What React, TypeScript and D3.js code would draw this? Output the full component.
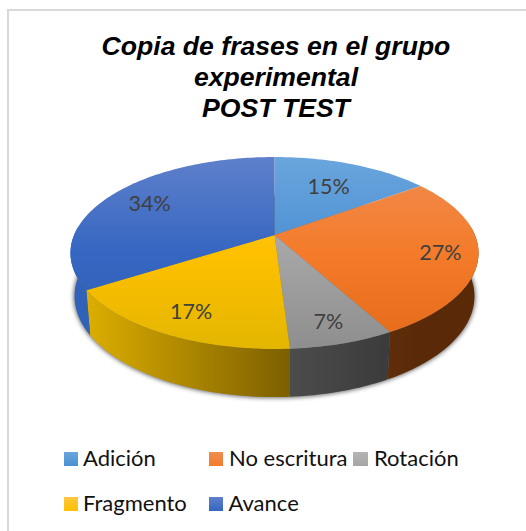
import React from "react";
import * as d3 from "d3";

const categories = ["Adición", "No escritura", "Rotación", "Fragmento", "Avance"];
const values = [15, 27, 7, 17, 34];
const titleLines = ["Copia de frases en el grupo", "experimental", "POST TEST"];
const topStops = [
  ["#6aa5dd", "#4b90d2", "#4b90d2"],
  ["#ef8d52", "#f47b2a", "#e46a18"],
  ["#b4b4b4", "#a5a5a5", "#8e8e8e"],
  ["#fdc63e", "#ffc000", "#e3b600"],
  ["#5f80cb", "#3566c1", "#2e60b6"],
];
const wallStops = [
  ["#3f7ab5", "#3f7ab5"],
  ["#5f2d0a", "#5a2a08"],
  ["#4c4c4c", "#3b3b3b"],
  ["#dcae00", "#7c5f00"],
  ["#2f62b8", "#2a5aa8"],
];
const labelRadii = [0.66, 0.82, 0.82, 0.795, 0.76];
const legendRows = [[0, 1, 2], [3, 4]];
const legendX = [[64, 209, 353], [64, 209]];
const legendTextX = [[83, 229, 374], [83, 228.5]];

const W = 526, H = 531;
const CX = 274.5, CY = 235, A = 200.4, B = 92.6, K = 0.1875;
const DEPTH = 42.4, SX = 0.98, SY = 1.05;

type P = [number, number];
const topPoint = (t: number): P => {
  const u = Math.sin(t), v = Math.cos(t), w = 1 + K * v;
  return [CX + (A * u) / w, CY - (B * v) / w];
};
const bottomPoint = (t: number): P => {
  const [x, y] = topPoint(t);
  return [CX + (x - CX) * SX, CY + DEPTH + (y - CY) * SY];
};
const sample = (a: number, b: number) => {
  const n = Math.max(2, Math.ceil(Math.abs(b - a) / 0.02));
  return d3.range(n + 1).map((i) => a + ((b - a) * i) / n);
};
const line = d3.line<P>().x((d) => d[0]).y((d) => d[1]);

export default function App() {
  const arcs = d3.pie<number>().sort(null)(values);
  const fullRim = sample(0, Math.PI * 2);
  const frontA = Math.PI * 0.47, frontB = Math.PI * 1.53;
  const labelPos = (i: number): P => {
    const a = arcs[i];
    const mid = (a.startAngle + a.endAngle) / 2;
    const r = labelRadii[i];
    const u = Math.sin(mid) * r, v = Math.cos(mid) * r, w = 1 + K * v;
    return [CX + (A * u) / w, CY - (B * v) / w];
  };
  return (
    <svg width={W} height={H} style={{ position: "absolute", left: 0, top: 0, background: "#fff" }}>
      <defs>
        <filter id="blur" x="-20%" y="-20%" width="140%" height="140%">
          <feGaussianBlur stdDeviation="2" />
        </filter>
        {topStops.map((s, i) => (
          <linearGradient key={i} id={`top${i}`} gradientUnits="userSpaceOnUse" x1="0" x2="0" y1={157} y2={349}>
            <stop offset="0" stopColor={s[0]} />
            <stop offset="0.5" stopColor={s[1]} />
            <stop offset="1" stopColor={s[2]} />
          </linearGradient>
        ))}
        {topStops.map((s, i) => (
          <linearGradient key={i} id={`leg${i}`} x1="0" x2="0" y1="0" y2="1">
            <stop offset="0" stopColor={s[0]} />
            <stop offset="1" stopColor={s[1]} />
          </linearGradient>
        ))}
        {arcs.map((a, i) => {
          const xs = [topPoint(a.startAngle)[0], topPoint(a.endAngle)[0]];
          return (
            <linearGradient key={i} id={`wall${i}`} gradientUnits="userSpaceOnUse" x1={Math.min(...xs)} x2={Math.max(...xs)} y1="0" y2="0">
              <stop offset="0" stopColor={wallStops[i][0]} />
              <stop offset="1" stopColor={wallStops[i][1]} />
            </linearGradient>
          );
        })}
      </defs>
      <line x1={7} x2={W} y1={10} y2={10} stroke="#d9d9d9" strokeWidth={2} />
      <line x1={8} x2={8} y1={9} y2={H} stroke="#d9d9d9" strokeWidth={2} />
      {titleLines.map((t, i) => (
        <text key={t} x={276} y={55 + i * 31} textAnchor="middle" fontFamily="Liberation Sans" fontWeight="bold" fontStyle="italic" fontSize={26.6} fill="#000">
          {t}
        </text>
      ))}
      <path d={line(fullRim.map(bottomPoint))! + "Z"} fill="#333" stroke="#333" strokeWidth={2} opacity={0.7} filter="url(#blur)" />
      {arcs.map((a, i) => {
        const s = Math.max(a.startAngle, frontA), e = Math.min(a.endAngle, frontB);
        if (e <= s) return null;
        const ts = sample(s, e);
        const pts = [...ts.map(topPoint), ...ts.slice().reverse().map(bottomPoint)];
        return <path key={i} d={line(pts)! + "Z"} fill={`url(#wall${i})`} />;
      })}
      {arcs.map((a, i) => {
        const pts: P[] = [[CX, CY], ...sample(a.startAngle, a.endAngle).map(topPoint)];
        return <path key={i} d={line(pts)! + "Z"} fill={`url(#top${i})`} />;
      })}
      {values.map((v, i) => {
        const [x, y] = labelPos(i);
        return (
          <text key={i} x={x} y={y} textAnchor="middle" dominantBaseline="central" fontFamily="Lato" fontSize={21.5} fill="#404040">
            {v}%
          </text>
        );
      })}
      {legendRows.map((row, r) =>
        row.map((c, j) => (
          <g key={c}>
            <rect x={legendX[r][j]} y={452 + r * 45} width={c === 2 ? 15 : 14} height={14} fill={`url(#leg${c})`} />
            <text x={legendTextX[r][j]} y={465.5 + r * 45} fontFamily="Lato" fontSize={22} fill="#111">
              {categories[c]}
            </text>
          </g>
        ))
      )}
    </svg>
  );
}
